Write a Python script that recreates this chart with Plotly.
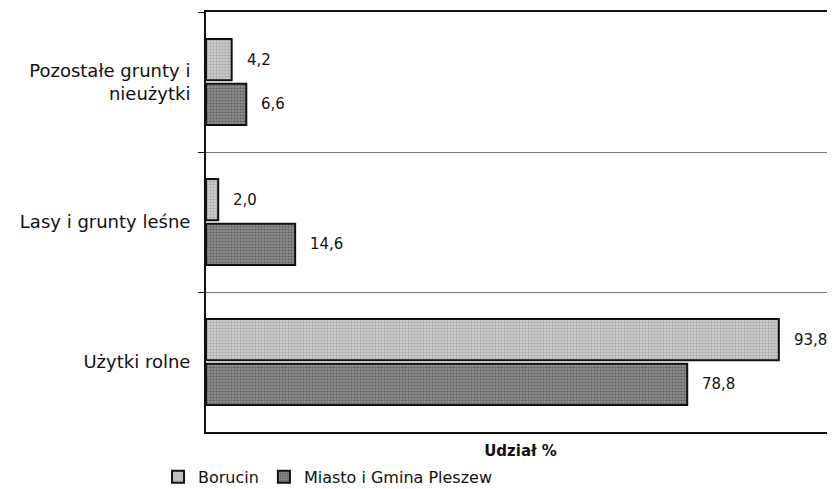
import plotly.graph_objects as go

categories = ["Pozostałe grunty i<br>nieużytki", "Lasy i grunty leśne", "Użytki rolne"]
borucin = [4.2, 2.0, 93.8]
pleszew = [6.6, 14.6, 78.8]
series_names = ["Borucin", "Miasto i Gmina Pleszew"]
x_title = "Udział %"

FONT = "DejaVu Sans"

def fmt(v):
    return f"{v:.1f}".replace(".", ",")

fig = go.Figure()
fig.add_trace(go.Bar(
    y=categories, x=borucin, orientation="h", name=series_names[0],
    marker=dict(color="#c0c0c0", line=dict(color="#111", width=2),
                pattern=dict(shape=".", fgcolor="#7a7a7a", bgcolor="#cdcdcd", size=3, solidity=0.4)),
))
fig.add_trace(go.Bar(
    y=categories, x=pleszew, orientation="h", name=series_names[1],
    marker=dict(color="#6a6a6a", line=dict(color="#111", width=2),
                pattern=dict(shape=".", fgcolor="#333333", bgcolor="#8c8c8c", size=3, solidity=0.4)),
))

annotations = []
for vals, off in ((borucin, -0.16), (pleszew, 0.16)):
    for cat_i, v in enumerate(vals):
        annotations.append(dict(
            x=v, y=cat_i + off, xref="x", yref="y", text=fmt(v),
            showarrow=False, xanchor="left", yanchor="middle", xshift=13,
            font=dict(family=FONT, size=15, color="#111"),
        ))

fig.update_layout(
    width=827, height=481,
    margin=dict(l=198, r=0, t=4, b=57, autoexpand=False),
    paper_bgcolor="white", plot_bgcolor="white",
    barmode="group", bargap=0.36, bargroupgap=0.08,
    font=dict(family=FONT, size=18, color="#111"),
    showlegend=True,
    legend=dict(orientation="h", x=0.194, xanchor="center", y=-0.107, yanchor="middle",
                font=dict(family=FONT, size=16, color="#111"),
                itemwidth=30, tracegroupgap=0),
    xaxis=dict(range=[0, 103], showticklabels=False, showgrid=False, zeroline=False,
               showline=True, mirror=True, linecolor="#111", linewidth=2, ticks="",
               title=dict(text=f"<b>{x_title}</b>", font=dict(family=FONT, size=15, color="#111"),
                          standoff=12)),
    yaxis=dict(autorange=False, range=[2.5, -0.5], type="category",
               tickson="boundaries", ticks="outside", ticklen=6, tickcolor="#111",
               showgrid=True, gridcolor="#777", gridwidth=1,
               showline=True, linecolor="#111", linewidth=2, zeroline=False,
               tickfont=dict(family=FONT, size=18, color="#111"), ticklabelstandoff=10),
    annotations=annotations,
)

fig.write_html("out.html")
